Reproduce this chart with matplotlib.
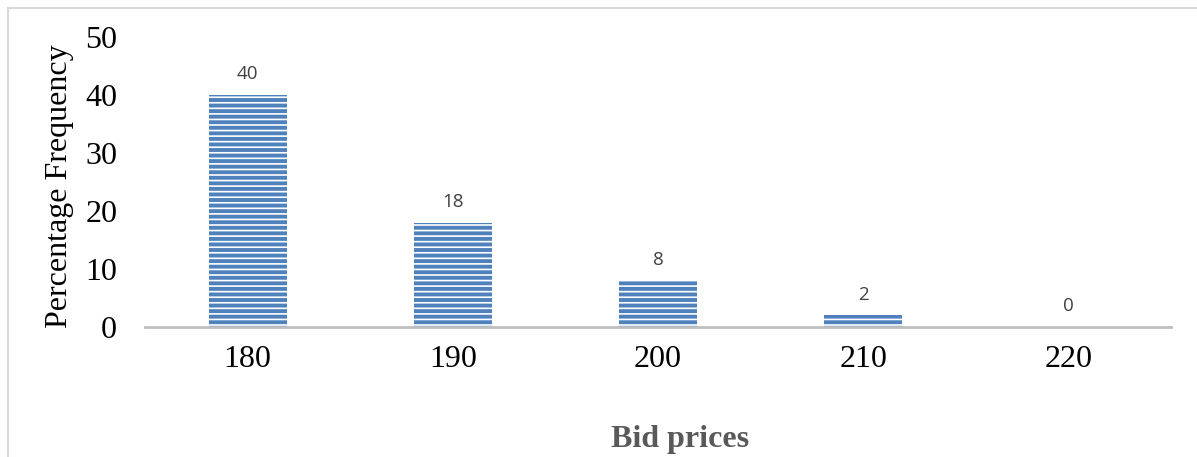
import matplotlib
matplotlib.use("Agg")
import matplotlib.pyplot as plt
from matplotlib.lines import Line2D

categories = ["180", "190", "200", "210", "220"]
values = [40, 18, 8, 2, 0]
yticks = [0, 10, 20, 30, 40, 50]

plt.rcParams['hatch.linewidth'] = 1.2
serif = ['Liberation Serif', 'DejaVu Serif']

fig = plt.figure(figsize=(11.97, 4.57), dpi=100)
ax = fig.add_axes([145/1197, 130/457, 1026/1197, 290/457])

x = list(range(len(categories)))
bars = ax.bar(x, values, width=0.38, color='#4f81bd', edgecolor='white',
              linewidth=0, hatch='---', zorder=2)

for xi, v in zip(x, values):
    ax.text(xi, v + 3.6, str(v), ha='center', va='center', fontsize=13.5,
            color='#404040', family=['Open Sans', 'DejaVu Sans'])

ax.set_xlim(-0.5, len(categories) - 0.5)
ax.set_ylim(0, 50)
ax.set_yticks(yticks)
ax.set_yticklabels([str(t) for t in yticks], family=serif, fontsize=23)
ax.set_xticks(x)
ax.set_xticklabels(categories, family=serif, fontsize=23)
ax.tick_params(axis='both', length=0, colors='black')
ax.tick_params(axis='y', pad=20)
ax.tick_params(axis='x', pad=13)

for s in ['top', 'right', 'left']:
    ax.spines[s].set_visible(False)
ax.spines['bottom'].set_color('#bfbfbf')
ax.spines['bottom'].set_linewidth(2)
ax.spines['bottom'].set_zorder(3)

fig.text(60/1197, 1 - 186/457, 'Percentage Frequency', rotation=90, ha='center',
         va='center', family=serif, fontsize=23, color='black')
fig.text(680/1197, 1 - 440/457, 'Bid prices', ha='center', va='center',
         family=serif, fontsize=23, fontweight='bold', color='#595959')

# outer frame (left and top)
fig.add_artist(Line2D([7.5/1197, 7.5/1197], [0, 1 - 7.5/457], transform=fig.transFigure,
                      color='#d9d9d9', lw=1.5))
fig.add_artist(Line2D([7.5/1197, 1], [1 - 7.5/457, 1 - 7.5/457], transform=fig.transFigure,
                      color='#d9d9d9', lw=1.5))

fig.savefig('out.png', dpi=100)
